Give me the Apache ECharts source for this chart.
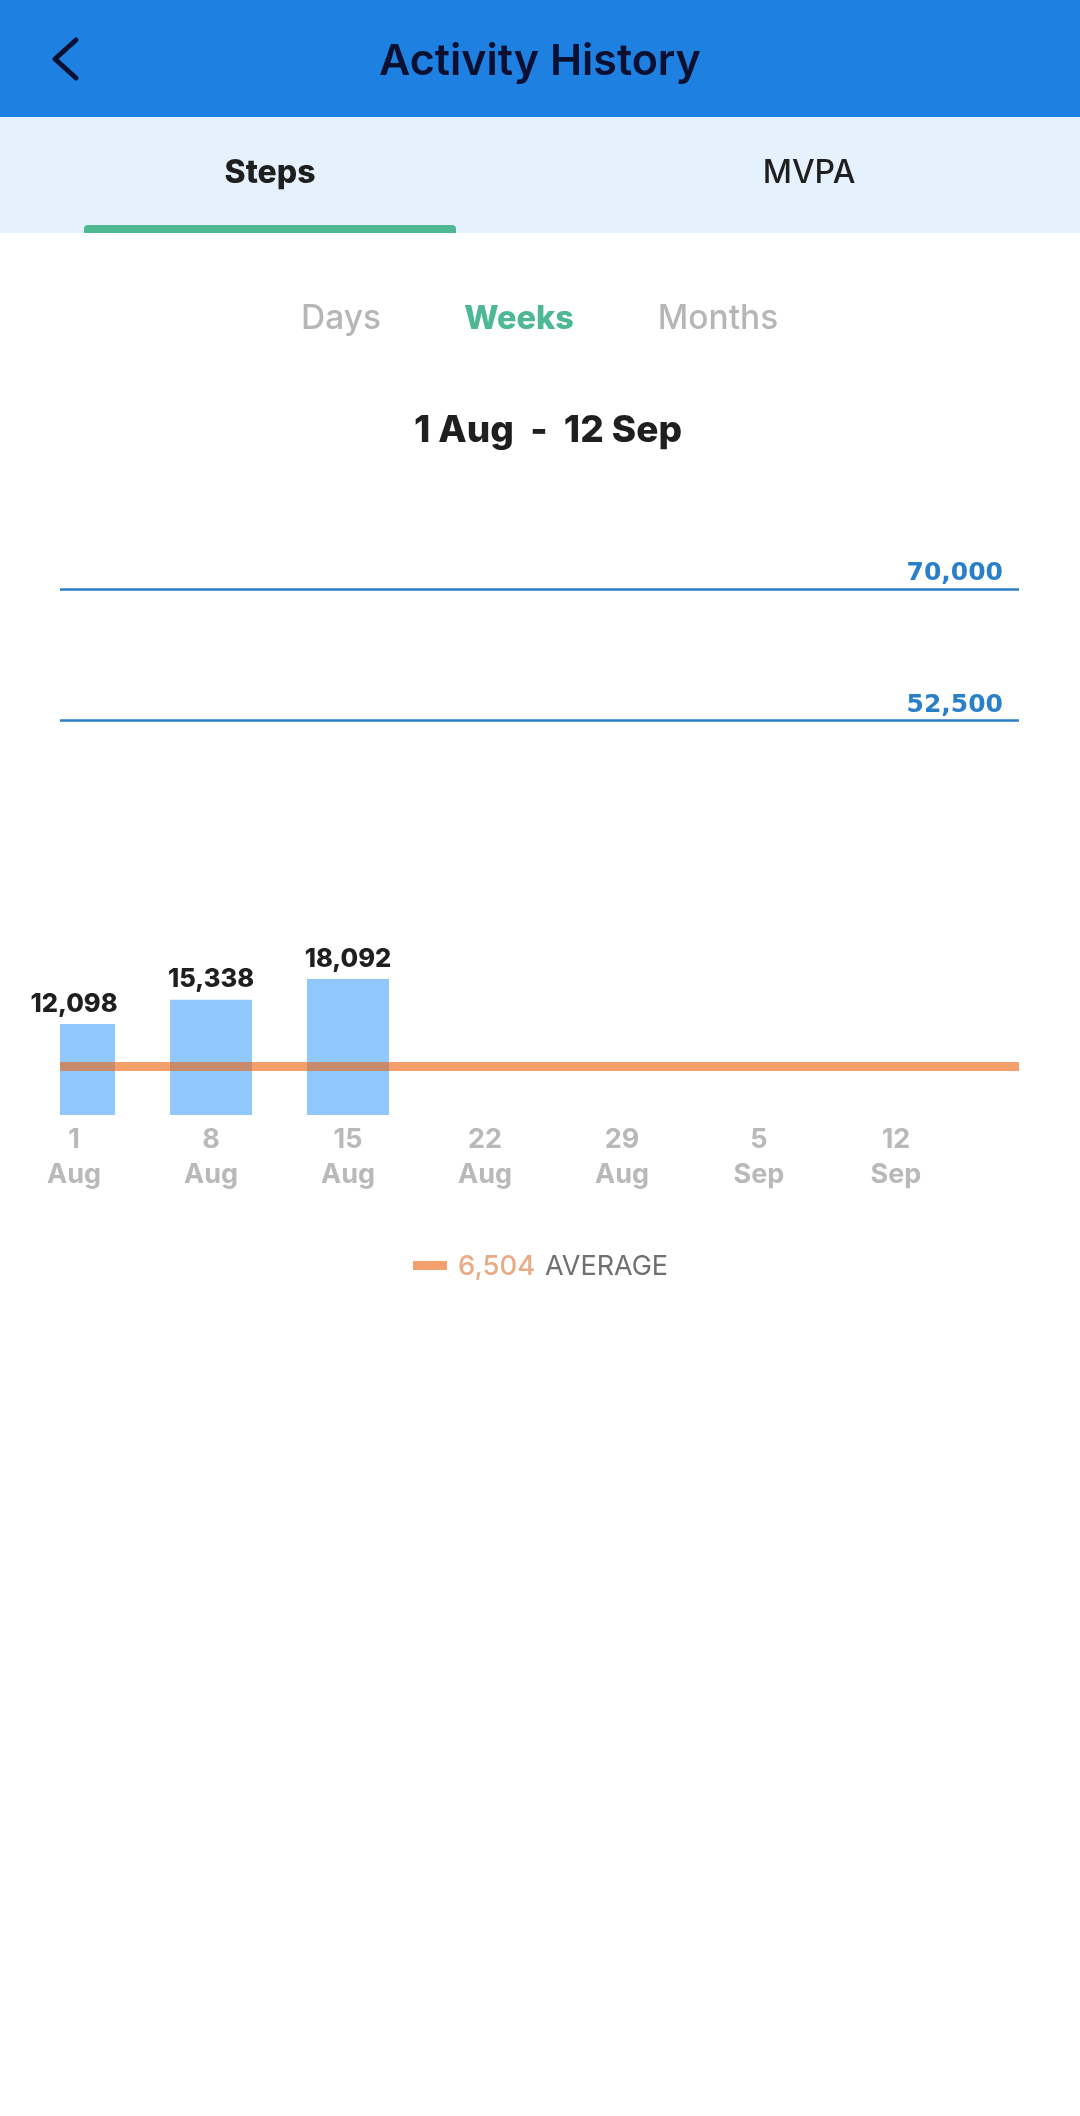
<!DOCTYPE html>
<html>
<head>
<meta charset="utf-8">
<title>Activity History</title>
<style>
html, body { margin: 0; padding: 0; background: #fff; }
#chart { width: 1080px; height: 2116px; }
</style>
<script src="https://cdn.jsdelivr.net/npm/echarts@6/dist/echarts.min.js"></script>
</head>
<body>
<div id="chart"></div>
<script>
var weekLabels = ['1\nAug', '8\nAug', '15\nAug', '22\nAug', '29\nAug', '5\nSep', '12\nSep'];
var weekSteps = [12098, 15338, 18092];
var goalLines = [70000, 52500];
var averageSteps = 6504;
var averageName = 'AVERAGE';
var dateRange = '1 Aug  -  12 Sep';
var screenTitle = 'Activity History';
var mainTabs = ['Steps', 'MVPA'];
var rangeTabs = ['Days', 'Weeks', 'Months'];

var FONT = 'Inter, "Noto Sans", sans-serif';
var BAR_WIDTH = 82;

function fmt(n) {
    return n.toLocaleString('en-US');
}

function text(str, x, y, size, weight, color, align) {
    return {
        type: 'text',
        x: x,
        y: y,
        silent: true,
        style: {
            text: str,
            fontFamily: FONT,
            fontSize: size,
            fontWeight: weight,
            fill: color,
            align: align || 'center',
            verticalAlign: 'middle'
        }
    };
}

// plain bar series is not clipped on a value axis, so the bars are drawn here
function renderWeekBar(params, api) {
    var top = api.coord([api.value(0), api.value(1)]);
    var base = api.coord([api.value(0), 0]);
    var rect = echarts.graphic.clipRectByRect({
        x: top[0] - BAR_WIDTH / 2,
        y: top[1],
        width: BAR_WIDTH,
        height: base[1] - top[1]
    }, params.coordSys);
    return rect && {
        type: 'rect',
        shape: rect,
        style: { fill: '#90c8fb' }
    };
}

var myChart = echarts.init(document.getElementById('chart'), null, { renderer: 'canvas' });

var tickValues = weekLabels.map(function (d, i) { return i; });
var weekPoints = weekSteps.map(function (v, i) { return [i, v]; });

var option = {
    animation: false,
    backgroundColor: '#ffffff',
    grid: { left: 60, width: 959, top: 589, height: 526 },
    xAxis: {
        type: 'value',
        // first week sits 14px in from the plot edge, so its bar gets cut off
        min: -14 / 137,
        max: 7 - 14 / 137,
        splitLine: { show: false },
        axisLine: { show: false },
        axisTick: { show: false },
        axisLabel: {
            customValues: tickValues,
            formatter: function (v) { return weekLabels[v]; },
            margin: 7,
            fontFamily: FONT,
            fontSize: 27,
            fontWeight: 700,
            lineHeight: 35,
            color: '#b9b9b9'
        }
    },
    yAxis: {
        type: 'value',
        min: 0,
        max: 70000,
        show: false
    },
    series: [{
        type: 'custom',
        renderItem: renderWeekBar,
        silent: true,
        encode: { x: 0, y: 1 },
        data: weekPoints,
        markLine: {
            silent: true,
            symbol: 'none',
            data: goalLines.map(function (v) {
                return {
                    yAxis: v,
                    lineStyle: { color: '#2a7fc9', width: 2.5, type: 'solid', opacity: 1 },
                    label: {
                        show: true,
                        position: 'insideEndTop',
                        distance: [16, 3],
                        formatter: fmt(v),
                        fontFamily: '"DejaVu Sans"',
                        fontWeight: 700,
                        fontSize: 25,
                        color: '#2a7fc9'
                    }
                };
            }).concat([{
                yAxis: averageSteps,
                lineStyle: { color: 'rgb(236, 97, 10)', width: 9, type: 'solid', opacity: 0.6 },
                label: { show: false }
            }])
        }
    }, {
        // value labels stay centred on the week, also for the cut-off first bar
        type: 'scatter',
        symbolSize: 0,
        silent: true,
        itemStyle: { opacity: 1 },
        data: weekPoints,
        label: {
            show: true,
            position: 'top',
            distance: 7,
            formatter: function (p) { return fmt(p.value[1]); },
            fontFamily: FONT,
            fontWeight: 800,
            fontSize: 25.5,
            color: '#1f1f1f'
        }
    }],
    graphic: [
        { type: 'rect', silent: true, z: -1, shape: { x: 0, y: 0, width: 1080, height: 117 }, style: { fill: '#1e80e0' } },
        { type: 'rect', silent: true, z: -1, shape: { x: 0, y: 117, width: 1080, height: 116 }, style: { fill: '#e6f1fe' } },
        { type: 'rect', silent: true, shape: { x: 84, y: 225, width: 372, height: 8, r: [4, 4, 0, 0] }, style: { fill: '#4db892' } },
        {
            type: 'polyline',
            silent: true,
            shape: { points: [[76, 40], [55, 59], [76, 78]] },
            style: { stroke: '#0b1030', lineWidth: 5, fill: null, lineCap: 'round', lineJoin: 'round' }
        },
        text(screenTitle, 540, 62, 43, 600, '#0b1030'),
        text(mainTabs[0], 270, 173, 32, 800, '#1f1f1f'),
        text(mainTabs[1], 809, 173, 32, 500, '#1f1f1f'),
        text(rangeTabs[0], 341, 319, 33.5, 500, '#b6b6b6'),
        text(rangeTabs[1], 519, 319, 32.5, 800, '#4db892'),
        text(rangeTabs[2], 718, 319, 33.5, 500, '#b6b6b6'),
        text(dateRange, 548, 431, 37, 800, '#1f1f1f'),
        { type: 'rect', silent: true, shape: { x: 413, y: 1261, width: 34, height: 9 }, style: { fill: '#f4a06c' } },
        text(fmt(averageSteps), 458, 1267, 27.5, 500, '#e8ab85', 'left'),
        text(averageName, 545, 1267, 27, 400, '#6f6f6f', 'left')
    ]
};

myChart.setOption(option);
</script>
</body>
</html>
